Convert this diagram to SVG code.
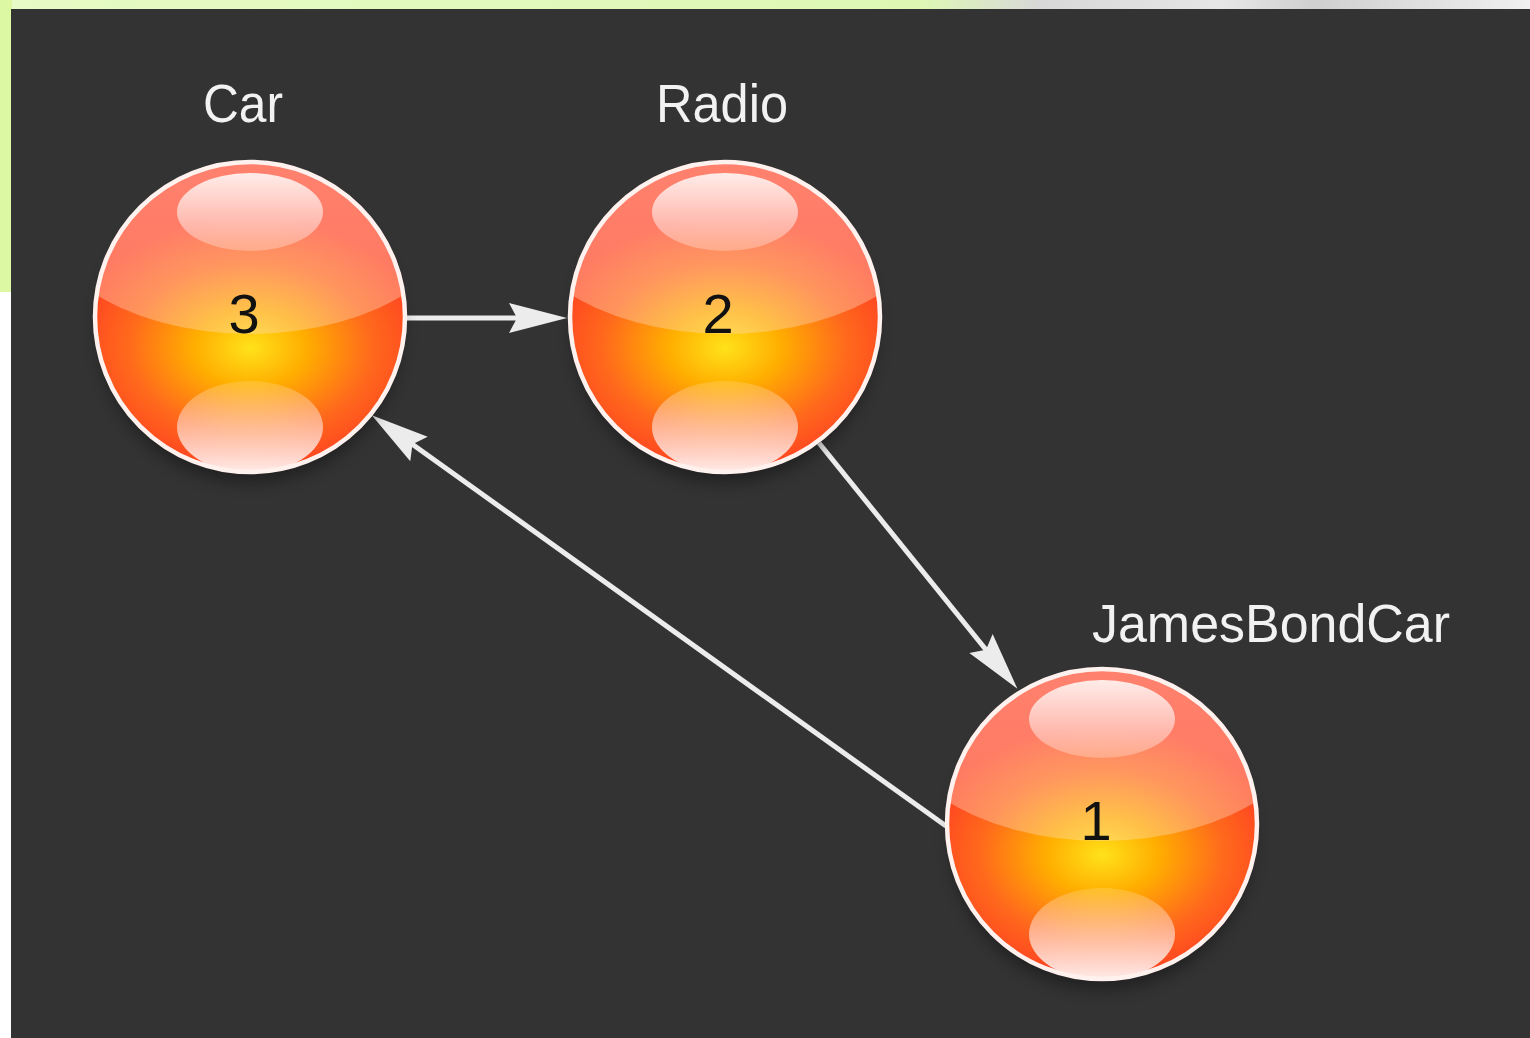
<svg xmlns="http://www.w3.org/2000/svg" width="1530" height="1038" viewBox="0 0 1530 1038">
<style>
.label{font-family:"Liberation Sans",Arial,sans-serif;font-size:54px;fill:#f2f2f2}
.num{font-family:"Liberation Sans",Arial,sans-serif;font-size:56px;fill:#111;text-anchor:middle}
.edge{stroke:#ececec;stroke-width:5;fill:none}
.rim{fill:none;stroke:#fff2ee;stroke-width:4.5}
</style>
<defs>
<linearGradient id="topbar" x1="0" y1="0" x2="1" y2="0">
<stop offset="0" stop-color="#e6fbc6"/>
<stop offset="0.6" stop-color="#def8b4"/>
<stop offset="0.68" stop-color="#d8d8d8"/>
<stop offset="0.8" stop-color="#e6e6e6"/>
<stop offset="0.86" stop-color="#cfcfcf"/>
<stop offset="1" stop-color="#f0f0f0"/>
</linearGradient>
<radialGradient id="base" cx="0.5" cy="0.6" r="0.6" gradientTransform="translate(0.5 0.6) scale(1 0.7) translate(-0.5 -0.6)">
<stop offset="0" stop-color="#ffe21a"/>
<stop offset="0.3" stop-color="#ffae00"/>
<stop offset="0.65" stop-color="#ff6a1c"/>
<stop offset="1" stop-color="#ff3c22"/>
</radialGradient>
<linearGradient id="upper" x1="0" y1="0" x2="0" y2="1">
<stop offset="0" stop-color="#ffd8d8" stop-opacity="0.5"/>
<stop offset="1" stop-color="#ffe0c8" stop-opacity="0.35"/>
</linearGradient>
<linearGradient id="hlTop" x1="0" y1="0" x2="0" y2="1">
<stop offset="0" stop-color="#ffffff" stop-opacity="0.85"/>
<stop offset="1" stop-color="#ffffff" stop-opacity="0.25"/>
</linearGradient>
<linearGradient id="hlBot" x1="0" y1="0" x2="0" y2="1">
<stop offset="0" stop-color="#ffffff" stop-opacity="0.15"/>
<stop offset="1" stop-color="#ffffff" stop-opacity="0.9"/>
</linearGradient>
<clipPath id="ball"><circle cx="0" cy="0" r="155"/></clipPath>
<filter id="blur" x="-50%" y="-50%" width="200%" height="200%"><feGaussianBlur stdDeviation="8"/></filter>
<marker id="arrow" markerUnits="userSpaceOnUse" markerWidth="62" markerHeight="34" refX="43" refY="16" orient="auto">
<path d="M0,1 L58,16 L0,31 L8,16 Z" fill="#ececec"/>
</marker>
<g id="sphere">
<ellipse cx="0" cy="14" rx="152" ry="152" fill="#000" opacity="0.35" filter="url(#blur)"/>
<circle cx="0" cy="0" r="155" fill="url(#base)"/>
<g clip-path="url(#ball)">
<ellipse cx="0" cy="-138" rx="232" ry="155" fill="url(#upper)"/>
<ellipse cx="0" cy="-105" rx="73" ry="39" fill="url(#hlTop)"/>
<ellipse cx="0" cy="110" rx="73" ry="46" fill="url(#hlBot)"/>
</g>
<circle class="rim" cx="0" cy="0" r="155"/>
</g>
</defs>
<rect x="0" y="0" width="1530" height="1038" fill="#ffffff"/>
<rect x="0" y="0" width="1530" height="10" fill="url(#topbar)"/>
<rect x="0" y="0" width="12" height="292" fill="#dcf8a2"/>
<rect x="11" y="9" width="1519" height="1029" fill="#333333"/>
<g id="connectors">
<path class="edge" d="M406,318 L552,318" marker-end="url(#arrow)"/>
<path class="edge" d="M819,443 L1008,677" marker-end="url(#arrow)"/>
<path class="edge" d="M946,826 L384,424" marker-end="url(#arrow)"/>
</g>
<g id="node-car">
<use href="#sphere" transform="translate(250,317)"/>
<text class="num" x="244" y="333">3</text>
<text class="label" x="203" y="122" textLength="80" lengthAdjust="spacingAndGlyphs">Car</text>
</g>
<g id="node-radio">
<use href="#sphere" transform="translate(725,317)"/>
<text class="num" x="718" y="333">2</text>
<text class="label" x="656" y="122" textLength="132" lengthAdjust="spacingAndGlyphs">Radio</text>
</g>
<g id="node-jamesbondcar">
<use href="#sphere" transform="translate(1102,824)"/>
<text class="num" x="1096" y="840">1</text>
<text class="label" x="1092" y="642" textLength="358" lengthAdjust="spacingAndGlyphs">JamesBondCar</text>
</g>
</svg>
